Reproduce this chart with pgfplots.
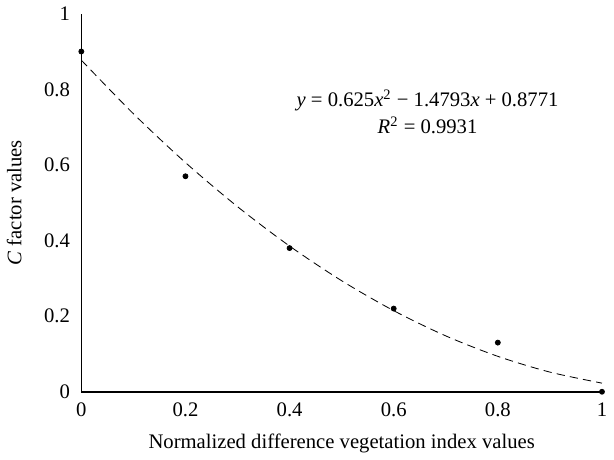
\documentclass[border=0pt]{standalone}
\usepackage{pgfplots}
\pgfplotsset{compat=1.18}
\usepackage{fontspec}
\setmainfont{Liberation Serif}

\begin{document}
\begin{tikzpicture}
\begin{axis}[
  scale only axis,
  width=252pt, height=183pt,
  xmin=0, xmax=1, ymin=0, ymax=1,
  axis lines=left,
  axis line style={-, thick},
  xtick={0,0.2,...,1}, ytick={0,0.2,...,1},
  major tick length=0pt,
  /pgf/number format/assume math mode=true,
  tick label style={font=\normalsize},
  xticklabel style={yshift=-2pt},
  yticklabel style={xshift=-2pt},
  xlabel={Normalized difference vegetation index values},
  ylabel={\textit{C} factor values},
  xlabel style={yshift=-1pt},
  ylabel style={yshift=4pt},
  clip=false,
]
% fitted trend line
\addplot[black, dash pattern=on 4pt off 2.5pt, smooth] coordinates {
  (0,0.8771) (0.1,0.7354) (0.2,0.6062) (0.3,0.4896) (0.4,0.3854)
  (0.5,0.2937) (0.6,0.2145) (0.7,0.1478) (0.8,0.0937) (0.9,0.0520) (1,0.0228)
};
% observed points
\addplot[only marks, mark=*, mark size=1.2pt, black] coordinates {
  (0,0.90) (0.2,0.57) (0.4,0.38) (0.6,0.22) (0.8,0.13) (1,0.0)
};
\node at (axis cs:0.665,0.77) {\textit{y} = 0.625\textit{x}\textsuperscript{2} − 1.4793\textit{x} + 0.8771};
\node at (axis cs:0.665,0.705) {\textit{R}\textsuperscript{2} = 0.9931};
\end{axis}
\end{tikzpicture}
\end{document}
